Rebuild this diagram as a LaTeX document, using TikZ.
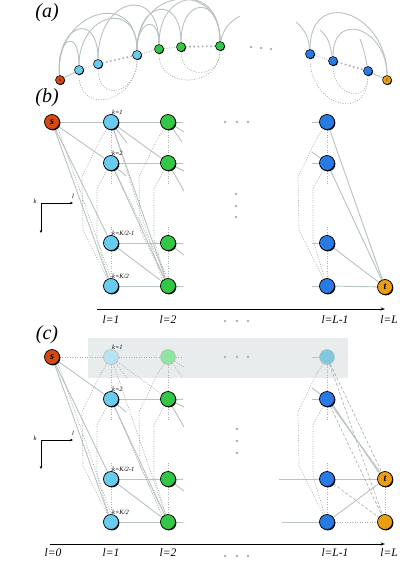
\documentclass[tikz,border=0pt]{standalone}
\usepackage{fontspec}
\setmainfont{Liberation Serif}
\usetikzlibrary{positioning, calc, arrows.meta, shadows, backgrounds}

\definecolor{srcred}{RGB}{212,74,16}
\definecolor{layerone}{RGB}{104,204,240}
\definecolor{layertwo}{RGB}{50,200,70}
\definecolor{layerlast}{RGB}{40,122,228}
\definecolor{sinkorange}{RGB}{236,158,18}
\definecolor{fadeone}{RGB}{182,228,242}
\definecolor{fadetwo}{RGB}{142,228,160}
\definecolor{fadelast}{RGB}{128,200,222}
\definecolor{edgegray}{RGB}{184,194,192}
\definecolor{dotgray}{RGB}{168,176,176}
\definecolor{maskgray}{RGB}{233,236,236}

\tikzset{
  vtx/.style={circle, draw=black, line width=0.7pt, minimum size=15pt, inner sep=0pt,
    drop shadow={shadow xshift=0.9pt, shadow yshift=-0.9pt, opacity=1, fill=black}},
  smallvtx/.style={circle, draw=black, line width=0.55pt, minimum size=9pt, inner sep=0pt,
    drop shadow={shadow xshift=0.6pt, shadow yshift=-0.6pt, opacity=1, fill=black}},
  fadedvtx/.style={circle, draw=gray!55, line width=0.5pt, minimum size=15pt, inner sep=0pt},
  link/.style={draw=edgegray, line width=0.9pt},
  dotedge/.style={draw=dotgray, line width=0.65pt, dash pattern=on 1.1pt off 1.4pt},
  dashedge/.style={draw=dotgray, line width=0.65pt, dash pattern=on 3pt off 2pt},
  bigdots/.style={draw=dotgray, line width=2.2pt, line cap=round, dash pattern=on 0pt off 4.2pt},
  klab/.style={font=\fontsize{6.5}{7}\selectfont\itshape, inner sep=0pt, anchor=south west},
  llab/.style={font=\fontsize{11.5}{11.5}\selectfont\itshape, inner sep=0pt},
  panellab/.style={font=\fontsize{20}{20}\selectfont\itshape, inner sep=0pt},
  axisarrow/.style={draw=black, line width=0.9pt, -{Stealth[length=4.5pt, width=3.2pt]}},
  klaxis/.style={draw=black, line width=0.9pt, -{Stealth[length=3pt, width=2.6pt]}},
  tinylab/.style={font=\fontsize{6.5}{6.5}\selectfont\itshape, inner sep=0pt},
  endlab/.style={font=\fontsize{10}{10}\selectfont\itshape\bfseries}
}

\begin{document}
\begin{tikzpicture}[x=1pt, y=-1pt]
\useasboundingbox (0,0) rectangle (399,562);

% panel labels
\node[panellab] (labA) at (47,13) {(a)};
\node[panellab] (labB) at (47,98) {(b)};
\node[panellab] (labC) at (47,335) {(c)};

% ---------- (a) linear order ----------
\node[smallvtx, fill=srcred, font=\fontsize{5}{5}\selectfont\itshape] (sa) at (60,80) {s};
\foreach \n/\x/\y in {u1/79/70, u2/98/64, u3/137/55}
  \node[smallvtx, fill=layerone] (\n) at (\x,\y) {};
\foreach \n/\x/\y in {v1/159/49, v2/181/47, v3/220/46}
  \node[smallvtx, fill=layertwo] (\n) at (\x,\y) {};
\foreach \n/\x/\y in {w1/310/54, w2/333/61, w3/368/71}
  \node[smallvtx, fill=layerlast] (\n) at (\x,\y) {};
\node[smallvtx, fill=sinkorange, font=\fontsize{5}{5}\selectfont\itshape] (ta) at (387,80) {t};
\foreach \x/\y in {251/47, 261/48, 271/49}
  \fill[dotgray] (\x,\y) circle (1.4pt);
\coordinate (v3r) at (240,16);
\coordinate (w1l) at (296,22);
\coordinate (w2l) at (320,30);
\coordinate (w3l) at (360,39);

\begin{scope}[on background layer]
  \draw[link] (sa) -- (u1);
  \draw[dotedge] (u1) -- (u2);
  \draw[bigdots] (u2) -- (u3);
  \draw[dotedge] (u3) -- (v1);
  \draw[dotedge] (v1) -- (v2);
  \draw[bigdots] (v2) -- (v3);
  \draw[dotedge] (w1) -- (w2);
  \draw[bigdots] (w2) -- (w3);
  \draw[link] (w3) -- (ta);
  % arcs above
  \draw[link] (sa) to[out=95, in=90, looseness=4.5] (u1);
  \draw[link] (sa) to[out=95, in=90, looseness=3.1] (u2);
  \draw[link] (sa) to[out=95, in=90, looseness=2] (u3);
  \draw[link] (u1) to[out=90, in=90, looseness=2.2] (u3);
  \draw[link] (u2) to[out=90, in=90, looseness=2.5] (v1);
  \draw[link] (u3) to[out=90, in=90, looseness=3.4] (v1);
  \draw[link] (u3) to[out=90, in=90, looseness=2.8] (v2);
  \draw[link] (u3) to[out=90, in=90, looseness=1.9] (v3);
  \draw[link] (v1) to[out=90, in=90, looseness=2.4] (v3);
  \draw[link] (v2) to[out=90, in=90, looseness=3] (v3);
  \draw[link] (v3) to[out=80, in=210] (v3r);
  \draw[link] (w1) to[out=95, in=-40] (w1l);
  \draw[link] (w2) to[out=100, in=-40] (w2l);
  \draw[link] (w3) to[out=100, in=-70] (w3l);
  \draw[link] (w1) to[out=90, in=90, looseness=2] (ta);
  \draw[link] (w2) to[out=90, in=90, looseness=2.1] (ta);
  % arcs below
  \draw[dotedge] (u1) to[out=-90, in=-90, looseness=1.8] (u3);
  \draw[dotedge] (u2) to[out=-90, in=-90, looseness=2.2] (u3);
  \draw[dotedge] (v1) to[out=-90, in=-90, looseness=1.55] (v3);
  \draw[dotedge] (v2) to[out=-90, in=-90, looseness=1.85] (v3);
  \draw[dotedge] (w1) to[out=-90, in=-90, looseness=2] (w3);
  \draw[dotedge] (w2) to[out=-90, in=-90, looseness=2.1] (w3);
\end{scope}

% ---------- (b) layered graph ----------
\node[vtx, fill=srcred, endlab] (sb) at (52,122) {s};
\foreach \k/\y in {1/122, 2/163, 3/243, 4/286} {
  \node[vtx, fill=layerone] (pb\k) at (111,\y) {};
  \node[vtx, fill=layertwo] (qb\k) at (168,\y) {};
  \node[vtx, fill=layerlast] (rb\k) at (327,\y) {};
}
\node[vtx, fill=sinkorange, endlab] (tb) at (385,287) {t};
\node[klab] (kb1) at ($(pb1)+(1,-7)$) {k=1};
\node[klab] (kb2) at ($(pb2)+(1,-7)$) {k=2};
\node[klab] (kb3) at ($(pb3)+(1,-7)$) {k=K/2-1};
\node[klab] (kb4) at ($(pb4)+(1,-7)$) {k=K/2};
\foreach \x in {225,237,248} {
  \fill[dotgray] (\x,122) circle (1.4pt);
  \fill[dotgray] (\x,321) circle (1.4pt);
}
\foreach \y in {194,206,217}
  \fill[dotgray] (236,\y) circle (1.4pt);

\begin{scope}[on background layer]
  \foreach \k in {1,...,4} \draw[link] (sb) -- (pb\k);
  \draw[dotedge] (sb.south east) -- (pb4.north);
  \foreach \k in {1,...,4} \draw[link] (pb\k) -- (qb\k);
  \draw[link] (pb1) -- (qb2);
  \draw[link] (pb1) -- (qb4);
  \draw[link] (pb2) -- (qb4);
  \draw[link] (pb3) -- (qb4);
  \draw[link] (pb1) -- +(16,21);
  \draw[link] (pb2) -- +(15,13);
  \foreach \k in {1,...,4} \draw[link] (qb\k) -- +(15,0);
  \draw[link] (qb1) -- +(16,10);
  \draw[link] (qb1) -- +(14,20);
  \draw[link] (qb2) -- +(16,8);
  \draw[link] (qb2) -- +(16,28);
  \draw[link] (qb3) -- +(16,12);
  \foreach \k in {1,...,4} \draw[link] (rb\k) -- +(-15,0);
  \draw[link] (rb2) -- +(-15,-11);
  \foreach \k in {1,...,4} \draw[link] (rb\k) -- (tb);
  \foreach \c in {pb,qb,rb} {
    \draw[dotedge] (\c1) -- (\c2);
    \draw[dotedge] (\c2) -- +(0,22);
    \draw[dotedge] (\c3) -- (\c4);
    \draw[dotedge] (\c3) -- +(0,-16);
    \draw[dotedge] (\c1) -- ($(\c1)+(-11,18)$) -- ($(\c1)+(-29,55)$) -- ($(\c4)+(-28,-56)$) -- (\c4);
    \draw[dotedge] (\c2) -- ($(\c2)+(-14,26)$) -- ($(\c4)+(-14,-46)$) -- (\c4);
  }
  \draw[dotedge] (pb1) -- (qb4.north west);
  \draw[dotedge] (pb2) -- (qb4.north);
\end{scope}

% k / l directions
\coordinate (kb0) at (41,203);
\coordinate (kbx) at (73,203);
\coordinate (kby) at (41,233);
\draw[klaxis] (kb0) -- (kbx);
\draw[klaxis] (kb0) -- (kby);
\node[tinylab] (kbk) at (35,201) {k};
\node[tinylab] (kbl) at (73,196) {l};

% layer axis
\coordinate (axb0) at (97,309);
\coordinate (axb1) at (385,309);
\draw[axisarrow] (axb0) -- (axb1);
\node[llab] (lb1) at (111,320) {l=1};
\node[llab] (lb2) at (168,320) {l=2};
\node[llab] (lb3) at (335,320) {l=L-1};
\node[llab] (lb4) at (389,320) {l=L};

% ---------- (c) first row masked ----------
\node[vtx, fill=srcred, endlab] (sc) at (52,357) {s};
\node[fadedvtx, fill=fadeone] (pc1) at (111,357) {};
\node[fadedvtx, fill=fadetwo] (qc1) at (168,357) {};
\node[fadedvtx, fill=fadelast] (rc1) at (327,357) {};
\foreach \k/\y in {2/399, 3/479, 4/522} {
  \node[vtx, fill=layerone] (pc\k) at (111,\y) {};
  \node[vtx, fill=layertwo] (qc\k) at (168,\y) {};
  \node[vtx, fill=layerlast] (rc\k) at (327,\y) {};
}
\node[vtx, fill=sinkorange, endlab] (tc) at (385,479) {t};
\node[vtx, fill=sinkorange] (oc) at (385,522) {};
\node[klab] (kc1) at ($(pc1)+(1,-7)$) {k=1};
\node[klab] (kc2) at ($(pc2)+(1,-7)$) {k=2};
\node[klab] (kc3) at ($(pc3)+(1,-7)$) {k=K/2-1};
\node[klab] (kc4) at ($(pc4)+(1,-7)$) {k=K/2};
\foreach \x in {225,237,248} {
  \fill[dotgray] (\x,357) circle (1.4pt);
  \fill[dotgray] (\x,556) circle (1.4pt);
}
\foreach \y in {429,441,453}
  \fill[dotgray] (237,\y) circle (1.4pt);

\begin{scope}[on background layer]
  \fill[maskgray] (88,338) rectangle (348,378);
  \draw[dotedge] (sc) -- (pc1);
  \draw[dotedge] (pc1) -- (qc1);
  \draw[dotedge] (qc1) -- +(15,0);
  \draw[dotedge] (qc1) -- +(16,10);
  \draw[dotedge] (qc1) -- +(14,20);
  \draw[dotedge] (pc1) -- (qc2);
  \draw[dotedge] (pc1) -- (qc4);
  \draw[dotedge] (pc1) -- +(16,21);
  \foreach \k in {2,3,4} \draw[link] (sc) -- (pc\k);
  \draw[dotedge] (sc.south east) -- (pc4.north);
  \foreach \k in {2,3,4} \draw[link] (pc\k) -- (qc\k);
  \draw[link] (pc2) -- (qc4);
  \draw[link] (pc3) -- (qc4);
  \draw[link] (pc2) -- +(15,13);
  \draw[dotedge] (pc2) -- (qc4.north west);
  \foreach \k in {2,3,4} \draw[link] (qc\k) -- +(15,0);
  \draw[link] (qc2) -- +(16,8);
  \draw[link] (qc2) -- +(16,28);
  \draw[link] (qc3) -- +(16,12);
  \draw[link] (rc1) -- +(-15,0);
  \draw[link] (rc2) -- +(-15,0);
  \draw[link] (rc2) -- +(-15,-11);
  \draw[link] (rc3) -- +(-48,0);
  \draw[link] (rc4) -- +(-45,0);
  \draw[link] (rc2) -- (tc);
  \draw[link] (rc2.south east) -- (tc.north west);
  \draw[link] (rc3) -- (tc);
  \draw[link] (rc4) -- (tc);
  \draw[dashedge] (rc1) -- (tc);
  \draw[dashedge] (rc1) -- (oc);
  \draw[dashedge] (rc2) -- (oc);
  \draw[dashedge] (rc3) -- (oc);
  \draw[dotedge] (rc4) -- (oc);
  \draw[dotedge] (tc) -- (oc);
  \foreach \c in {pc,qc,rc} {
    \draw[dotedge] (\c1) -- (\c2);
    \draw[dotedge] (\c2) -- +(0,22);
    \draw[dotedge] (\c3) -- (\c4);
    \draw[dotedge] (\c3) -- +(0,-16);
    \draw[dotedge] (\c1) -- ($(\c1)+(-11,18)$) -- ($(\c1)+(-29,55)$) -- ($(\c4)+(-28,-56)$) -- (\c4);
    \draw[dotedge] (\c2) -- ($(\c2)+(-14,26)$) -- ($(\c4)+(-14,-46)$) -- (\c4);
  }
\end{scope}

% k / l directions
\coordinate (kc0) at (41,440);
\coordinate (kcx) at (73,440);
\coordinate (kcy) at (41,469);
\draw[klaxis] (kc0) -- (kcx);
\draw[klaxis] (kc0) -- (kcy);
\node[tinylab] (kck) at (35,438) {k};
\node[tinylab] (kcl) at (73,433) {l};

% layer axis
\coordinate (axc0) at (50,544);
\coordinate (axc1) at (385,544);
\draw[axisarrow] (axc0) -- (axc1);
\node[llab] (lc0) at (53,553) {l=0};
\node[llab] (lc1) at (111,553) {l=1};
\node[llab] (lc2) at (168,553) {l=2};
\node[llab] (lc3) at (335,553) {l=L-1};
\node[llab] (lc4) at (389,553) {l=L};
\end{tikzpicture}
\end{document}
